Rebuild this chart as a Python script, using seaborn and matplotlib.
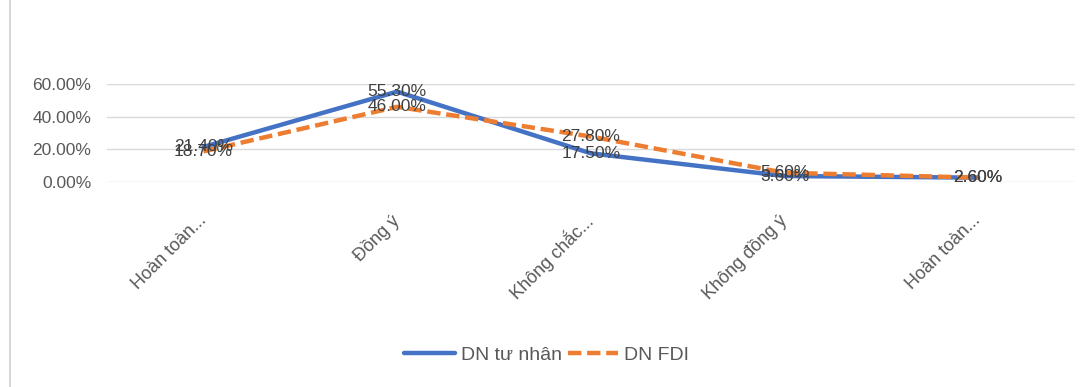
import matplotlib
matplotlib.use('Agg')
import matplotlib.pyplot as plt
import matplotlib.transforms as mtrans
import numpy as np
import pandas as pd
import seaborn as sns
from matplotlib.lines import Line2D
from matplotlib.ticker import PercentFormatter

# ── Data ────────────────────────────────────────────────────────────────────
categories = ['Hoàn toàn...', 'Đồng ý', 'Không chắc...', 'Không đồng ý', 'Hoàn toàn...']
private = [21.40, 55.30, 17.50, 3.60, 2.60]
fdi     = [18.70, 46.00, 27.80, 5.60, 2.60]
series  = ['DN tư nhân', 'DN FDI']

BLUE, ORANGE = '#4472C4', '#ED7D31'
TXT = '#595959'

sns.set_theme(style='white')
plt.rcParams['font.family'] = ['Liberation Sans', 'DejaVu Sans']

df = pd.DataFrame({
    'pos': list(range(len(categories))) * 2,
    'value': private + fdi,
    'series': [series[0]] * len(private) + [series[1]] * len(fdi),
})

fig = plt.figure(figsize=(10.87, 3.87), dpi=100)
ax = fig.add_axes([0.098, 0.530, 0.891, 0.253])

sns.lineplot(data=df, x='pos', y='value', hue='series', style='series',
             palette=[BLUE, ORANGE], dashes=[(None, None), (3, 1.3)],
             linewidth=3.2, ax=ax, legend=False, zorder=3)

# data labels centered on the points
for vals in (private, fdi):
    for i, v in enumerate(vals):
        ax.text(i, v, f'{v:.2f}%', ha='center', va='center',
                fontsize=12.5, color='#404040', zorder=4)

ax.set_xlim(-0.5, len(categories) - 0.5)
ax.set_ylim(0, 60)
ax.set_yticks([0, 20, 40, 60])
ax.yaxis.set_major_formatter(PercentFormatter(decimals=2))
ax.set_xticks(range(len(categories)))
ax.set_xticklabels(categories, rotation=45, ha='right', va='center',
                   rotation_mode='anchor', fontsize=13, color=TXT)
shift = mtrans.ScaledTranslation(14 / 100, 0, fig.dpi_scale_trans)
for lab in ax.get_xticklabels():
    lab.set_transform(lab.get_transform() + shift)
ax.tick_params(axis='y', labelsize=12.5, labelcolor=TXT, length=0, pad=11)
ax.tick_params(axis='x', length=0, pad=26)
ax.grid(axis='y', color='#D9D9D9', linewidth=1)
ax.set_xlabel('')
ax.set_ylabel('')
for s in ax.spines.values():
    s.set_visible(False)

handles = [Line2D([], [], color=BLUE, lw=3.2),
           Line2D([], [], color=ORANGE, lw=3.2, dashes=(3, 1.3))]
fig.legend(handles, series, loc='center', bbox_to_anchor=(0.503, 0.083), ncol=2,
           frameon=False, fontsize=14, handlelength=2.6, columnspacing=0.3,
           handletextpad=0.3, labelcolor=TXT)

# chart border on the left
fig.add_artist(Line2D([0.009, 0.009], [0, 1], transform=fig.transFigure,
                      color='#D0D0D0', lw=1.2))

fig.savefig('out.png', dpi=100)
